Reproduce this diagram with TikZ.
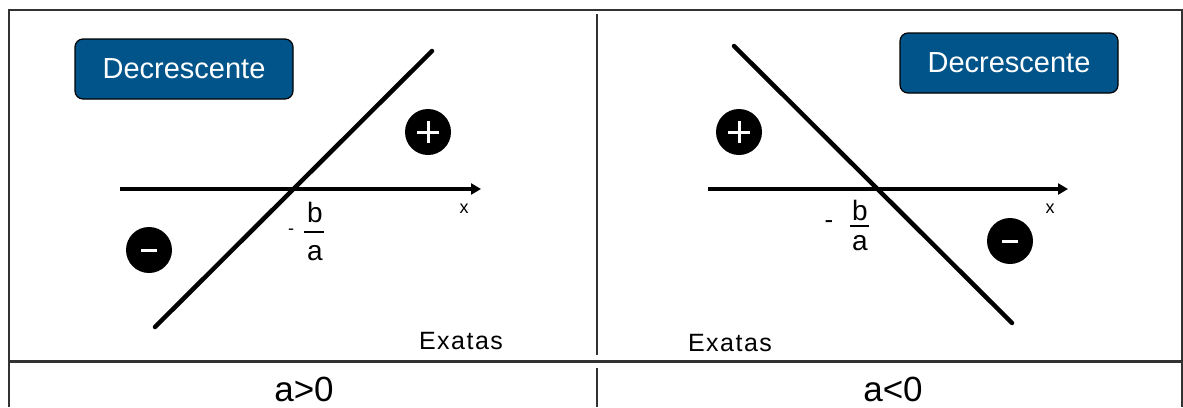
\documentclass[tikz,border=0pt]{standalone}
\usepackage{fontspec}
\setmainfont{Liberation Sans}
\usetikzlibrary{arrows.meta,positioning}
\definecolor{btnblue}{RGB}{0,84,138}
\definecolor{framegray}{RGB}{50,50,50}

\begin{document}
\begin{tikzpicture}[
    x=1pt, y=-1pt,
    >={Triangle[length=10pt,width=11pt]},
    frame/.style={line width=2pt, color=framegray},
    axisline/.style={->, line width=4pt},
    graphline/.style={line width=4.5pt, line cap=round},
    fracbar/.style={line width=2.5pt},
    btn/.style={rectangle, rounded corners=8pt, draw=black, line width=1.2pt,
        fill=btnblue, text=white, minimum width=218pt, minimum height=60pt,
        font=\fontsize{29}{32}\selectfont},
    sgn/.style={circle, fill=black, minimum size=46pt, inner sep=0pt},
    plussgn/.style={sgn, path picture={
        \draw[white, line width=3pt]
            ([xshift=-11pt]path picture bounding box.center) -- ([xshift=11pt]path picture bounding box.center)
            ([yshift=-11pt]path picture bounding box.center) -- ([yshift=11pt]path picture bounding box.center);}},
    minussgn/.style={sgn, path picture={
        \draw[white, line width=3pt]
            ([xshift=-8pt]path picture bounding box.center) -- ([xshift=8pt]path picture bounding box.center);}},
    lbl/.style={font=\fontsize{25}{27}\selectfont\addfontfeatures{LetterSpace=6}, inner sep=0pt},
    small/.style={font=\fontsize{18}{20}\selectfont, inner sep=0pt},
    fracl/.style={font=\fontsize{28}{30}\selectfont, inner sep=0pt},
    cond/.style={font=\fontsize{35}{38}\selectfont, inner sep=0pt},
]
\useasboundingbox (0,0) rectangle (1183,407);

% === Table frame ===
\draw[frame] (9,407) -- (9,10) -- (1183,10);
\draw[frame] (1182,10) -- (1182,407);
\draw[frame] (597,14) -- (597,355);
\draw[frame] (597,368) -- (597,407);
\draw[frame, line width=3pt] (9,361) -- (1183,361);

% === Left panel: a > 0 ===
\coordinate (axLs) at (120,189);
\coordinate (axLe) at (481,189);
\coordinate (lnLs) at (155,327);
\coordinate (lnLe) at (432,51);
\draw[axisline] (axLs) -- (axLe);
\draw[graphline] (lnLs) -- (lnLe);

\node[btn] (btnL) at (184,69) {Decrescente};
\node[plussgn] (posL) at (428,132) {};
\node[minussgn] (negL) at (149,250) {};
\node[small] (xL) at (464,209) {x};
\node[small] (mL) at (291,232) {-};
\node[fracl] (bL) at (315,212) {b};
\node[fracl] (aL) at (315,253) {a};
\draw[fracbar] (304,232) -- (324,232);
\node[lbl] (exL) at (461,341) {Exatas};
\node[cond] (condL) at (304,389) {a>0};

% === Right panel: a < 0 ===
\coordinate (axRs) at (708,189);
\coordinate (axRe) at (1068,189);
\coordinate (lnRs) at (734,46);
\coordinate (lnRe) at (1012,323);
\draw[axisline] (axRs) -- (axRe);
\draw[graphline] (lnRs) -- (lnRe);

\node[btn] (btnR) at (1009,63) {Decrescente};
\node[plussgn] (posR) at (739,132) {};
\node[minussgn] (negR) at (1010,241) {};
\node[small] (xR) at (1050,209) {x};
\node[small, font=\fontsize{26}{28}\selectfont] (mR) at (829,225) {-};
\node[fracl] (bR) at (860,210) {b};
\node[fracl] (aR) at (860,243) {a};
\draw[fracbar] (850,226) -- (869,226);
\node[lbl] (exR) at (730,343) {Exatas};
\node[cond] (condR) at (893,389) {a<0};

\end{tikzpicture}
\end{document}
